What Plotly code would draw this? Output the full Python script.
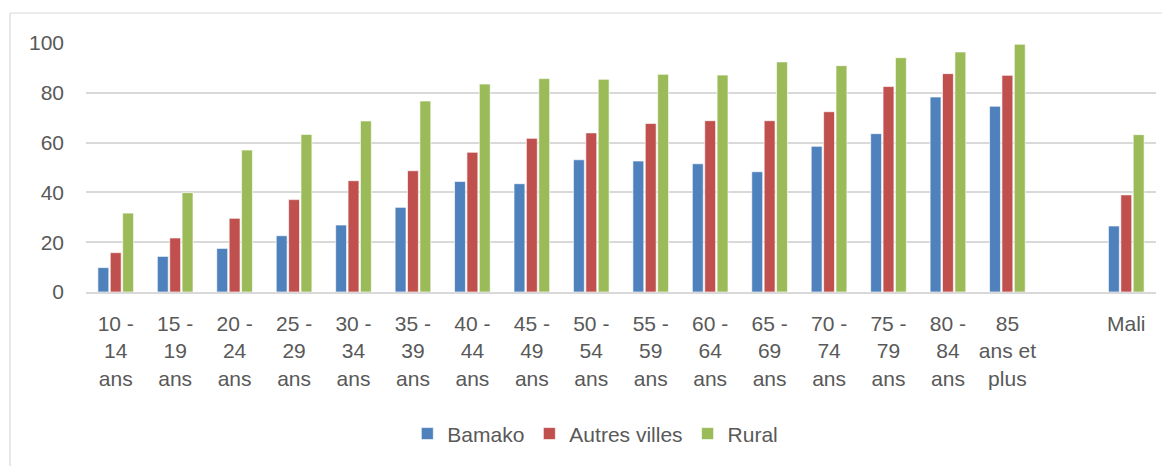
import plotly.graph_objects as go

categories = ["10 -<br>14<br>ans", "15 -<br>19<br>ans", "20 -<br>24<br>ans", "25 -<br>29<br>ans",
              "30 -<br>34<br>ans", "35 -<br>39<br>ans", "40 -<br>44<br>ans", "45 -<br>49<br>ans",
              "50 -<br>54<br>ans", "55 -<br>59<br>ans", "60 -<br>64<br>ans", "65 -<br>69<br>ans",
              "70 -<br>74<br>ans", "75 -<br>79<br>ans", "80 -<br>84<br>ans", "85<br>ans et<br>plus",
              " ", "Mali"]

bamako = [9.8, 14.3, 17.5, 22.6, 26.9, 34.0, 44.4, 43.5, 53.1, 52.6, 51.5, 48.3, 58.5, 63.6, 78.3, 74.6, None, 26.5]
autres_villes = [15.8, 21.7, 29.6, 37.1, 44.7, 48.7, 56.1, 61.7, 63.9, 67.7, 68.8, 68.8, 72.4, 82.5, 87.7, 87.0, None, 39.0]
rural = [31.7, 39.9, 57.0, 63.3, 68.7, 76.7, 83.5, 85.7, 85.4, 87.4, 87.1, 92.4, 90.9, 94.1, 96.4, 99.5, None, 63.2]

y_ticks = [0, 20, 40, 60, 80, 100]
series_names = ["Bamako", "Autres villes", "Rural"]
colors = ["#4F81BD", "#C0504D", "#9BBB59"]

fig = go.Figure()
for name, vals, col in zip(series_names, [bamako, autres_villes, rural], colors):
    fig.add_trace(go.Bar(x=categories, y=vals, name=name, marker_color=col,
                         marker_line_color="rgba(255,255,255,0.8)", marker_line_width=0.8))

FONT = "Liberation Sans, Arial, sans-serif"
TXT = "#595959"
fig.update_layout(
    width=1162, height=458,
    margin=dict(l=78, r=14, t=35, b=174, autoexpand=False),
    paper_bgcolor="white", plot_bgcolor="white",
    barmode="group", bargap=0.375, bargroupgap=0.12,
    font=dict(family=FONT, size=21, color=TXT),
    showlegend=True,
    legend=dict(orientation="h", x=0.476, xanchor="center", y=-0.57, yanchor="middle",
                font=dict(size=21, color=TXT), itemclick=False, itemwidth=30),
    xaxis=dict(type="category", showgrid=False, showline=True, linecolor="#D9D9D9", linewidth=1.5,
               ticks="", tickfont=dict(size=21, color=TXT), fixedrange=True,
               automargin=False, ticklabelstandoff=12),
    yaxis=dict(range=[0, 100], tickvals=y_ticks, showgrid=True, gridcolor="#D9D9D9",
               gridwidth=1.5, zeroline=False, showline=False, ticks="",
               tickfont=dict(size=21, color=TXT), fixedrange=True,
               automargin=False, ticklabelstandoff=21),
    shapes=[
        dict(type="line", xref="paper", yref="paper", x0=-0.071, x1=1.1, y0=1.1205, y1=1.1205,
             line=dict(color="#D9D9D9", width=1.2)),
        dict(type="line", xref="paper", yref="paper", x0=-0.071, x1=-0.071, y0=1.1205, y1=-0.75,
             line=dict(color="#D9D9D9", width=1.2)),
    ],
)

fig.write_html("out.html")
